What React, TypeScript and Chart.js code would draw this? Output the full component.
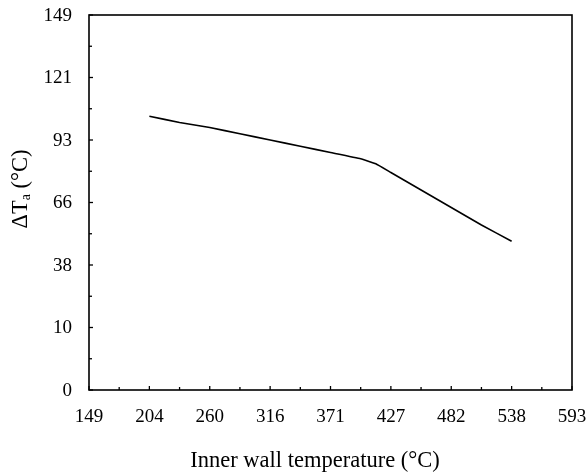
import React, { useEffect, useRef } from 'react';
import { Chart, registerables } from 'chart.js';
Chart.register(...registerables);

// Underlying axis units (original °F grid); printed labels are the °C values
const xTickValues = [300, 400, 500, 600, 700, 800, 900, 1000, 1100];
const xTickLabels = ['149', '204', '260', '316', '371', '427', '482', '538', '593'];
const yTickValues = [0, 50, 100, 150, 200, 250, 300];
const yTickLabels = ['0', '10', '38', '66', '93', '121', '149'];

// Series: inner wall temperature vs ΔTa (axis units)
const wallTemp = [400, 450, 500, 550, 600, 650, 700, 750, 775, 800, 850, 900, 950, 1000];
const deltaTa = [219, 214, 210, 205, 200, 195, 190, 185, 181, 174, 160, 146, 132, 119];

const xTitle = 'Inner wall temperature (°C)';
const FONT = '"Liberation Serif", "Times New Roman", serif';

const framePlugin = {
  id: 'framePlugin',
  afterDraw(chart: any) {
    const ctx = chart.ctx;
    const area = chart.chartArea;
    const xs = chart.scales.x;
    const ys = chart.scales.y;
    ctx.save();
    ctx.strokeStyle = '#000';
    ctx.lineWidth = 1.6;
    ctx.strokeRect(area.left, area.top, area.right - area.left, area.bottom - area.top);

    ctx.lineWidth = 1.3;
    // x ticks (inward)
    for (let i = 0; i < xTickValues.length; i++) {
      const px = xs.getPixelForValue(xTickValues[i]);
      ctx.beginPath();
      ctx.moveTo(px, area.bottom);
      ctx.lineTo(px, area.bottom - 4);
      ctx.stroke();
      if (i < xTickValues.length - 1) {
        const mx = xs.getPixelForValue((xTickValues[i] + xTickValues[i + 1]) / 2);
        ctx.beginPath();
        ctx.moveTo(mx, area.bottom);
        ctx.lineTo(mx, area.bottom - 3);
        ctx.stroke();
      }
    }
    // y ticks (inward)
    for (let i = 0; i < yTickValues.length; i++) {
      const py = ys.getPixelForValue(yTickValues[i]);
      ctx.beginPath();
      ctx.moveTo(area.left, py);
      ctx.lineTo(area.left + 4, py);
      ctx.stroke();
      if (i < yTickValues.length - 1) {
        const my = ys.getPixelForValue((yTickValues[i] + yTickValues[i + 1]) / 2);
        ctx.beginPath();
        ctx.moveTo(area.left, my);
        ctx.lineTo(area.left + 3, my);
        ctx.stroke();
      }
    }

    // tick labels
    ctx.fillStyle = '#000';
    ctx.font = `19px ${FONT}`;
    ctx.textBaseline = 'middle';
    ctx.textAlign = 'center';
    for (let i = 0; i < xTickValues.length; i++) {
      const px = xs.getPixelForValue(xTickValues[i]);
      ctx.fillText(xTickLabels[i], px, area.bottom + 27);
    }
    ctx.textAlign = 'right';
    for (let i = 0; i < yTickValues.length; i++) {
      const py = ys.getPixelForValue(yTickValues[i]);
      ctx.fillText(yTickLabels[i], area.left - 17, py + 1);
    }

    // x title
    ctx.font = `22.5px ${FONT}`;
    ctx.textAlign = 'center';
    ctx.textBaseline = 'alphabetic';
    ctx.fillText(xTitle, 315, 467);

    // y title with subscript
    ctx.translate(21, 189);
    ctx.rotate(-Math.PI / 2);
    const big = `22.5px ${FONT}`;
    const small = `14px ${FONT}`;
    ctx.font = big;
    const w1 = ctx.measureText('ΔT').width;
    const w3 = ctx.measureText(' (°C)').width;
    ctx.font = small;
    const w2 = ctx.measureText('a').width;
    const total = w1 + w2 + w3;
    let x0 = -total / 2;
    ctx.textAlign = 'left';
    ctx.textBaseline = 'middle';
    ctx.font = big;
    ctx.fillText('ΔT', x0, 0);
    x0 += w1;
    ctx.font = small;
    ctx.fillText('a', x0, 5);
    x0 += w2;
    ctx.font = big;
    ctx.fillText(' (°C)', x0, 0);
    ctx.restore();
  },
};

export default function App() {
  const ref = useRef<HTMLCanvasElement | null>(null);
  useEffect(() => {
    if (!ref.current) return;
    const chart = new Chart(ref.current, {
      type: 'line',
      data: {
        datasets: [
          {
            data: wallTemp.map((x, i) => ({ x, y: deltaTa[i] })),
            borderColor: '#000',
            borderWidth: 1.6,
            pointRadius: 0,
            fill: false,
            tension: 0.1,
          },
        ],
      },
      options: {
        animation: false,
        responsive: false,
        maintainAspectRatio: false,
        events: [],
        layout: { padding: { top: 15, right: 14, left: 0, bottom: 0 } },
        plugins: { legend: { display: false }, tooltip: { enabled: false }, title: { display: false } },
        scales: {
          x: {
            type: 'linear',
            min: 300,
            max: 1100,
            grid: { display: false },
            border: { display: false },
            ticks: { display: false },
            afterBuildTicks: (s: any) => { s.ticks = xTickValues.map((v) => ({ value: v })); },
            afterFit: (s: any) => { s.height = 84; },
          },
          y: {
            type: 'linear',
            min: 0,
            max: 300,
            grid: { display: false },
            border: { display: false },
            ticks: { display: false },
            afterBuildTicks: (s: any) => { s.ticks = yTickValues.map((v) => ({ value: v })); },
            afterFit: (s: any) => { s.width = 89; },
          },
        },
      },
      plugins: [framePlugin],
    });
    return () => chart.destroy();
  }, []);
  return (
    <div style={{ position: 'absolute', left: 0, top: 0, width: 586, height: 474, background: '#fff' }}>
      <canvas ref={ref} width={586} height={474} style={{ width: 586, height: 474 }} />
    </div>
  );
}
